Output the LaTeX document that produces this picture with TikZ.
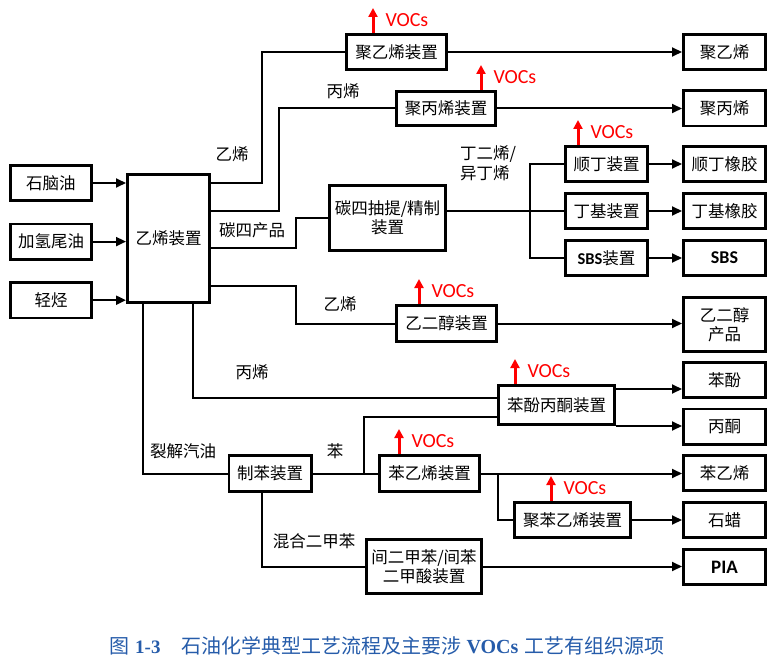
\documentclass[tikz,border=0pt]{standalone}
\usepackage{fontspec}
\newfontfamily\cjk{Noto Sans CJK SC}
\newfontfamily\lat{Carlito}
\newfontfamily\capser{Liberation Serif}
\usetikzlibrary{arrows.meta}
\usetikzlibrary{positioning}
\definecolor{capblue}{RGB}{38,92,170}
\tikzset{x=1pt, y=-1pt, % one unit is one pixel of the page, y runs downwards
unit/.style={ % every box of the flow sheet
draw, line width=2.6pt, inner sep=1pt, align=center,
minimum width=82.4pt, minimum height=35.4pt,
font=\cjk\fontsize{16.5}{19}\selectfont},
tag/.style={ % stream names beside the lines
inner sep=0pt, align=left, font=\cjk\fontsize{16.5}{20}\selectfont},
flow/.style={line width=2pt}, % plain streams
feed/.style={flow, -{Triangle[length=10pt,width=9pt]}}} % streams with a head

\newcommand{\vocmark}[2]{% red VOCs release above unit #1, #2 from its left side
\draw[red, line width=3pt, -{Triangle[length=9pt,width=9pt]}]
([xshift=#2]#1.north west) -- ++(0,-25)
node[midway, right=11pt, inner sep=0pt, font=\lat\fontsize{20}{22}\selectfont] {VOCs};}

\begin{document}
\begin{tikzpicture}
\useasboundingbox (0,0) rectangle (777,666);

% feed stocks and the cracker
\node[unit, minimum width=81.4pt] (naphtha) at (51,183) {石脑油};
\node[unit, minimum width=81.4pt, below=20.6pt of naphtha] (hydtail) {加氢尾油};
\node[unit, minimum width=81.4pt, below=20.6pt of hydtail] (lighthc) {轻烃};
\node[unit, minimum height=128.4pt] (ethyl) at (168.5,238.5) {乙烯装置};

% process units
\node[unit, minimum width=100.4pt] (pe) at (396.5,52) {聚乙烯装置};
\node[unit, minimum width=99.4pt, minimum height=34.4pt] (pp) at (446,108.5) {聚丙烯装置};
\node[unit, minimum width=116.4pt, minimum height=65.4pt] (cfour) at (387.5,218) {碳四抽提/精制\\装置};
\node[unit] (br) at (606.5,164) {顺丁装置};
\node[unit] (iir) at (606.5,211) {丁基装置};
\node[unit] (sbs) at (606.5,258) {{\lat\bfseries SBS}装置};
\node[unit, minimum width=100.4pt, minimum height=36.4pt] (eg) at (446.5,323.5) {乙二醇装置};
\node[unit, minimum width=116.4pt, minimum height=39.4pt] (phac) at (556.5,405) {苯酚丙酮装置};
\node[unit, minimum height=36.4pt] (bz) at (270,473.5) {制苯装置};
\node[unit, minimum width=100.4pt, minimum height=36.4pt] (sm) at (429.5,473.5) {苯乙烯装置};
\node[unit, minimum width=116.4pt] (ps) at (572.5,520) {聚苯乙烯装置};
\node[unit, minimum width=115.4pt, minimum height=54.4pt] (pta) at (424,566.5) {间二甲苯/间苯\\二甲酸装置};

% products
\node[unit] (peO) at (724.5,52) {聚乙烯};
\node[unit] (ppO) at (724.5,108.5) {聚丙烯};
\node[unit] (brO) at (724.5,164) {顺丁橡胶};
\node[unit] (iirO) at (724.5,211) {丁基橡胶};
\node[unit, font=\lat\bfseries\fontsize{18}{20}\selectfont] (sbsO) at (724.5,258) {SBS};
\node[unit, minimum height=54.4pt] (egO) at (724.5,324.5) {乙二醇\\产品};
\node[unit] (phO) at (724.5,380) {苯酚};
\node[unit] (acO) at (724.5,426.5) {丙酮};
\node[unit] (smO) at (724.5,473) {苯乙烯};
\node[unit] (waxO) at (724.5,520) {石蜡};
\node[unit, font=\lat\bfseries\fontsize{19}{21}\selectfont] (piaO) at (724.5,567) {PIA};

% feeds into the cracker
\draw[feed] (naphtha) -- (naphtha -| ethyl.west);
\draw[feed] (hydtail) -- (hydtail -| ethyl.west);
\draw[feed] (lighthc) -- (lighthc -| ethyl.west);

% streams out of the cracker
\draw[flow] ([yshift=55.5pt]ethyl.east) -- ++(51,0) |- (pe.west);
\draw[flow] ([yshift=27.5pt]ethyl.east) -- ++(68,0) |- (pp.west);
\draw[flow] ([yshift=-9.5pt]ethyl.east) -- ++(85,0) |- (cfour.west);
\draw[flow] ([yshift=-47.5pt]ethyl.east) -- ++(85,0) |- (eg.west);
\draw[flow] ([xshift=24.5pt]ethyl.south) |- ([yshift=7pt]phac.west);
\draw[flow] ([xshift=-25.5pt]ethyl.south) |- (bz.west);

% C4 and aromatics streams
\draw[flow] (cfour.east |- iir) -- (iir.west);
\draw[flow] (br.west) -- ++(-34,0) |- (sbs.west);
\draw[flow] (bz.east) -- (sm.west);
\draw[flow] (bz.east) -- ++(51,0) |- ([yshift=-12pt]phac.west);
\draw[flow] ([xshift=-8pt]bz.south) |- (pta.west);
\draw[flow] (sm.east) -- ++(17,0) |- (ps.west);

% to the products
\draw[feed] (pe.east) -- (pe.east -| peO.west);
\draw[feed] (pp.east) -- (pp.east -| ppO.west);
\draw[feed] (br.east) -- (br.east -| brO.west);
\draw[feed] (iir.east) -- (iir.east -| iirO.west);
\draw[feed] (sbs.east) -- (sbs.east -| sbsO.west);
\draw[feed] (eg.east) -- (eg.east -| egO.west);
\coordinate (phtop) at ([yshift=16pt]phac.east);
\draw[feed] (phtop) -- (phtop -| phO.west);
\draw[feed] (phac.south east) -- (phac.south east -| acO.west);
\draw[feed] (sm.east) -- (sm.east -| smO.west);
\draw[feed] (ps.east) -- (ps.east -| waxO.west);
\draw[feed] (pta.east) -- (pta.east -| piaO.west);

% stream names
\node[tag] (tEthA) at (232,154) {乙烯};
\node[tag] (tProA) at (343,91) {丙烯};
\node[tag] (tCfour) at (252,230) {碳四产品};
\node[tag] (tButa) at (488,163) {丁二烯/\\异丁烯};
\node[tag] (tEthB) at (340,304) {乙烯};
\node[tag] (tProB) at (252,372) {丙烯};
\node[tag] (tGas) at (183,451) {裂解汽油};
\node[tag] (tBz) at (335,451) {苯};
\node[tag] (tXyl) at (314,541) {混合二甲苯};

% VOCs releases
\vocmark{pe}{28pt}
\vocmark{pp}{86pt}
\vocmark{br}{14pt}
\vocmark{eg}{24pt}
\vocmark{phac}{18pt}
\vocmark{sm}{21pt}
\vocmark{ps}{38pt}

% caption
\node[anchor=west, inner sep=0pt, text=capblue, font=\cjk\fontsize{20}{22}\selectfont] (cap) at (109,646)
{图\hspace{6pt}{\capser\bfseries\fontsize{19}{22}\selectfont 1-3}\hspace{21pt}石油化学典型工艺流程及主要涉\hspace{5pt}{\capser\bfseries VOCs}\hspace{6pt}工艺有组织源项};
\end{tikzpicture}
\end{document}
